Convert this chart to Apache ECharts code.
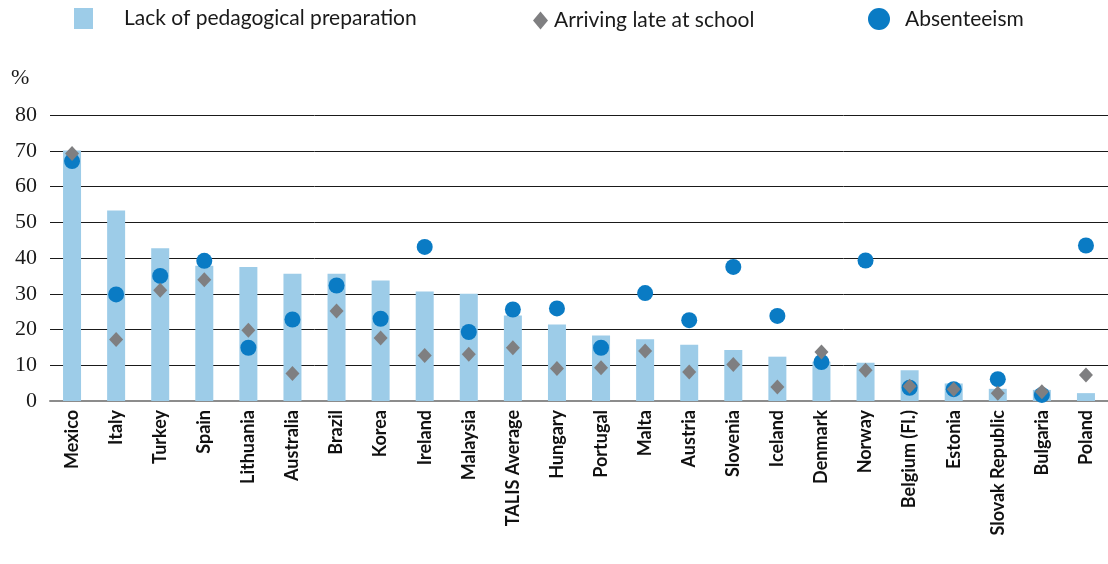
<!DOCTYPE html>
<html>
<head>
<meta charset="utf-8">
<script src="https://cdn.jsdelivr.net/npm/echarts@6/dist/echarts.min.js"></script>
<style>
html,body{margin:0;padding:0;background:#fff;}
#chart{width:1108px;height:564px;}
</style>
</head>
<body>
<div id="chart"></div>
<script>
const categories = ['Mexico','Italy','Turkey','Spain','Lithuania','Australia','Brazil','Korea','Ireland','Malaysia','TALIS Average','Hungary','Portugal','Malta','Austria','Slovenia','Iceland','Denmark','Norway','Belgium (Fl.)','Estonia','Slovak Republic','Bulgaria','Poland'];
const lackPrep = [70.1,53.3,42.7,37.8,37.5,35.6,35.6,33.7,30.6,30.0,23.9,21.4,18.3,17.3,15.7,14.3,12.4,11.0,10.7,8.6,4.9,3.4,3.1,2.2];
const arrivingLate = [69.2,17.2,31.0,33.9,19.8,7.7,25.2,17.6,12.7,13.1,14.9,9.1,9.3,14.0,8.1,10.2,3.9,13.7,8.6,4.1,3.3,2.2,2.6,7.3];
const absenteeism = [67.1,29.8,35.0,39.2,14.9,22.8,32.3,23.0,43.1,19.3,25.6,25.9,14.9,30.2,22.6,37.5,23.8,10.9,39.3,3.7,3.3,6.1,1.7,43.5];
const yTicks = [0,10,20,30,40,50,60,70,80];
const seriesNames = ['Lack of pedagogical preparation','Arriving late at school','Absenteeism'];

const chart = echarts.init(document.getElementById('chart'), null, {renderer:'canvas'});
const legendText = {fontFamily:'Lato, sans-serif', fontSize:21, color:'#1a1a1a'};
chart.setOption({
  animation:false,
  legend:[
    {left:74, top:8, padding:0, itemWidth:19, itemHeight:21, itemGap:0, data:[{name:seriesNames[0], icon:'rect'}], textStyle:Object.assign({padding:[2,0,0,26]}, legendText)},
    {left:533, top:10, padding:0, itemWidth:15, itemHeight:18, itemGap:0, data:[{name:seriesNames[1], icon:'diamond'}], textStyle:Object.assign({padding:[1,0,0,1]}, legendText)},
    {left:868, top:8, padding:0, itemWidth:22, itemHeight:23, itemGap:0, data:[{name:seriesNames[2], icon:'circle'}], textStyle:Object.assign({padding:[2,0,0,10]}, legendText)}
  ],
  graphic:[{type:'text', left:11, top:67, style:{text:'%', font:'22px "Liberation Serif", serif', fill:'#1a1a1a'}}],
  grid:{left:50, right:0, top:115, bottom:163, containLabel:false},
  xAxis:{
    type:'category', data:categories, boundaryGap:true,
    axisLine:{show:true, lineStyle:{color:'#8c8c8c', width:2}},
    axisTick:{show:false},
    axisLabel:{interval:0, rotate:90, margin:9, fontFamily:'Lato, sans-serif', fontWeight:'bold', fontSize:18, color:'#111'}
  },
  yAxis:{
    type:'value', min:yTicks[0], max:yTicks[yTicks.length-1], interval:10,
    axisLine:{show:false}, axisTick:{show:false},
    axisLabel:{margin:13, fontFamily:'"Liberation Serif", serif', fontSize:22, color:'#1a1a1a'},
    splitLine:{show:true, lineStyle:{color:'#1a1a1a', width:1}}
  },
  series:[
    {name:seriesNames[0], type:'bar', data:lackPrep, barWidth:18, itemStyle:{color:'#9dcce8'}, z:2},
    {name:seriesNames[2], type:'scatter', data:absenteeism, symbol:'circle', symbolSize:16, itemStyle:{color:'#0a7bc4', opacity:1}, z:3},
    {name:seriesNames[1], type:'scatter', data:arrivingLate, symbol:'diamond', symbolSize:[14,15], itemStyle:{color:'#7f7f81', opacity:1}, z:4}
  ]
});
</script>
</body>
</html>
